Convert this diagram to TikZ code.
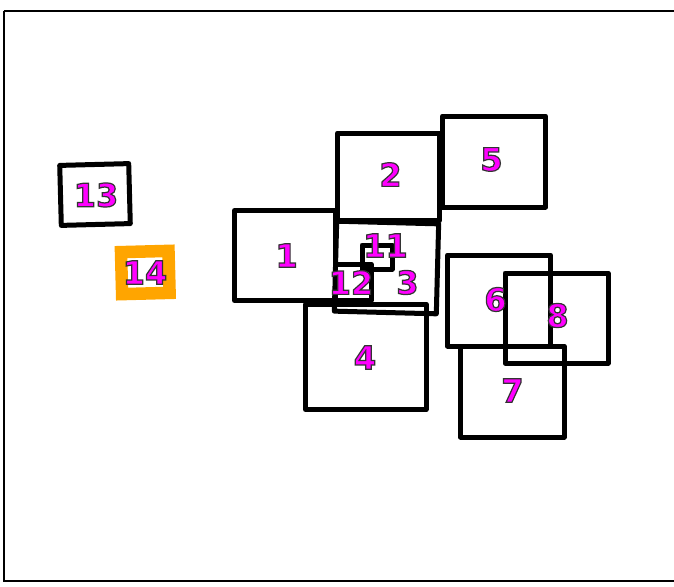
\documentclass[tikz,border=0pt]{standalone}
\usepackage{fontspec}
\setsansfont{DejaVu Sans}
\usepackage{xcolor}
\definecolor{lblpink}{HTML}{FF00FF}
\definecolor{boxorange}{HTML}{FFA500}
% magenta digits with a thin dark outline
\newcommand{\outl}[1]{\special{pdf:literal 0.2 0.2 0.2 RG 1.2 w 2 Tr}#1\special{pdf:literal 0 Tr}}

\begin{document}
\begin{tikzpicture}[
  x=1pt, y=-1pt,
  box/.style={draw, line width=5pt, line join=round, inner sep=0pt, outer sep=0pt},
  obox/.style={box, draw=boxorange, line width=12.5pt, line join=miter},
  lbl/.style={inner sep=0pt, text=lblpink, font=\sffamily\bfseries\fontsize{32}{32}\selectfont},
  frame/.style={draw, line width=2pt}
]
\useasboundingbox (0,0) rectangle (674,586);
\draw[frame] (3.7,11.3) coordinate (ftl) -- (690,11.3);
\draw[frame] (3.7,11.3) -- (3.7,580.7) coordinate (fbl) -- (690,580.7);

% boxes
\node[box, minimum width=101pt, minimum height=90pt] (b1) at (285,255.5) {};
\node[box, minimum width=102pt, minimum height=87.5pt] (b2) at (388.5,176.8) {};
\node[box, minimum width=102pt, minimum height=90pt, rotate=-1.5] (b3) at (386.5,267.5) {};
\node[box, minimum width=120.5pt, minimum height=105.5pt] (b4) at (365.8,356.8) {};
\node[box, minimum width=103pt, minimum height=91pt] (b5) at (494,161.5) {};
\node[box, minimum width=103pt, minimum height=91pt] (b6) at (499,300.5) {};
\node[box, minimum width=103.5pt, minimum height=91pt] (b7) at (512.3,391.5) {};
\node[box, minimum width=103pt, minimum height=90pt] (b8) at (556.5,318) {};
\node[box, minimum width=30pt, minimum height=24pt] (b11) at (377,257) {};
\node[box, minimum width=35.5pt, minimum height=36pt] (b12) at (353.3,282) {};
\node[box, minimum width=69pt, minimum height=60pt, rotate=1.5] (b13) at (95,194.5) {};
\node[obox, minimum width=47.5pt, minimum height=42pt, rotate=1.5] (b14) at (145.3,272.5) {};

% labels
\node[lbl] (l1) at (286.5,255.5) {\outl{1}};
\node[lbl] (l2) at (390.5,174.5) {\outl{2}};
\node[lbl] (l3) at (407.5,282.5) {\outl{3}};
\node[lbl] (l4) at (365,357.5) {\outl{4}};
\node[lbl] (l5) at (491.5,159.5) {\outl{5}};
\node[lbl] (l6) at (495.5,299.5) {\outl{6}};
\node[lbl] (l7) at (512.5,390.5) {\outl{7}};
\node[lbl] (l8) at (557.5,315.5) {\outl{8}};
\node[lbl] (l11) at (385.5,245.5) {\outl{11}};
\node[lbl] (l12) at (351,282.5) {\outl{12}};
\node[lbl] (l13) at (96,195) {\outl{13}};
\node[lbl] (l14) at (145,272.5) {\outl{14}};
\end{tikzpicture}
\end{document}
